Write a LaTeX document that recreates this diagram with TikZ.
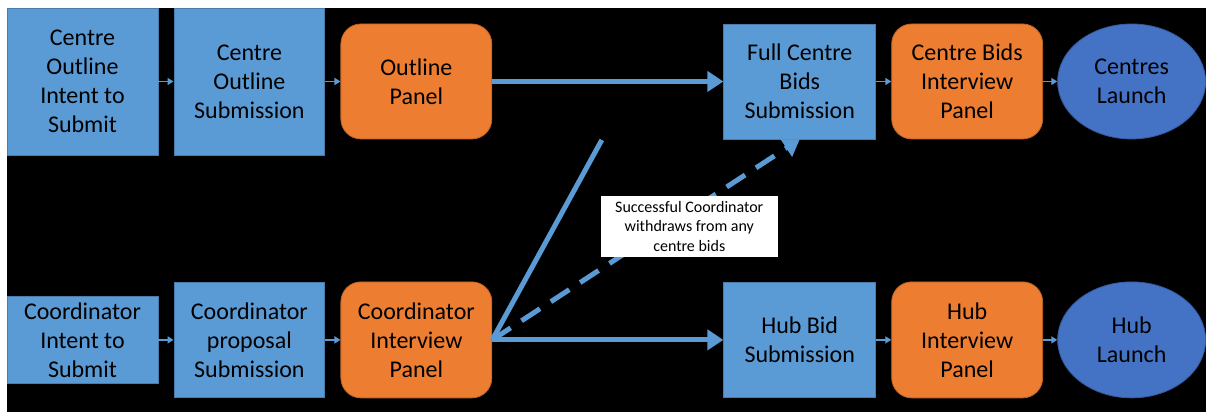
\documentclass[tikz,border=0pt]{standalone}
\usepackage{fontspec}
\setmainfont{Carlito}
\usetikzlibrary{shapes.geometric,arrows.meta}
\definecolor{stepblue}{HTML}{5B9BD5}
\definecolor{panelorange}{HTML}{ED7D31}
\definecolor{launchblue}{HTML}{4472C4}
\tikzset{every node/.style={text=black, align=center, font=\fontsize{24}{29}\selectfont, inner sep=0pt},
  stepbox/.style={rectangle, fill=stepblue, draw=stepblue!80!black, line width=0.8pt, minimum width=151pt},
  panelbox/.style={rectangle, rounded corners=20pt, fill=panelorange, draw=panelorange!80!black, line width=0.8pt, minimum width=151pt, minimum height=116pt},
  launchbox/.style={ellipse, fill=launchblue, draw=launchblue!80!black, line width=0.8pt, minimum width=148pt, minimum height=116pt},
  thinarrow/.style={stepblue, line width=1.5pt, -{Triangle[length=6pt,width=7pt]}},
  bigarrow/.style={stepblue, line width=5pt, -{Triangle[length=16pt,width=20pt]}},
  noteline/.style={stepblue, line width=5pt}}

\begin{document}
\begin{tikzpicture}[x=1pt,y=-1pt]
   \fill[white] (0,0) rectangle (1206,412);
   \fill[black] (7,8) rectangle (1206,412);

   \node[stepbox, minimum height=147pt] (cintent) at ( 82.5, 81.5) {Centre\\Outline\\Intent to\\Submit};
   \node[stepbox, minimum height=147pt] (csub)    at (249.5, 81.5) {Centre\\Outline\\Submission};
   \node[panelbox, minimum height=115pt] (opanel) at (416.5, 81.5) {Outline\\Panel};
   \node[stepbox, minimum height=115pt, minimum width=152pt] (fullbids) at (800, 81.5) {Full Centre\\Bids\\Submission};
   \node[panelbox, minimum height=115pt] (cbpanel) at (967.5, 81.5) {Centre Bids\\Interview\\Panel};
   \node[launchbox, minimum height=115pt] (claunch) at (1132, 81.5) {Centres\\Launch};

   \node[stepbox, minimum height=88pt]  (kintent) at ( 82.5,340) {Coordinator\\Intent to\\Submit};
   \node[stepbox, minimum height=116pt] (ksub)    at (249.5,340) {Coordinator\\proposal\\Submission};
   \node[panelbox] (kpanel) at (416.5,340) {Coordinator\\Interview\\Panel};
   \node[stepbox, minimum height=116pt, minimum width=152pt] (hubbid) at (800,340) {Hub Bid\\Submission};
   \node[panelbox] (hpanel) at (967.5,340) {Hub\\Interview\\Panel};
   \node[launchbox] (hlaunch) at (1132,340) {Hub\\Launch};

   \draw[thinarrow] (cintent) -- (csub);
   \draw[thinarrow] (csub) -- (opanel);
   \draw[thinarrow] (fullbids) -- (cbpanel);
   \draw[thinarrow] (cbpanel) -- (claunch);
   \draw[thinarrow] (kintent) -- (ksub);
   \draw[thinarrow] (ksub) -- (kpanel);
   \draw[thinarrow] (hubbid) -- (hpanel);
   \draw[thinarrow] (hpanel) -- (hlaunch);

   \draw[bigarrow] (opanel) -- (fullbids);
   \draw[bigarrow] (kpanel) -- (hubbid);
   \coordinate (loose) at (602,140);
   \draw[noteline] (kpanel.east) -- (loose);
   \draw[bigarrow, dash pattern=on 22pt off 13pt] (kpanel.east) -- (fullbids.south);

   \node[fill=white, minimum width=177pt, minimum height=61pt, font=\fontsize{16}{19.5}\selectfont] (note) at (689.5,226.5)
     {Successful Coordinator\\withdraws from any\\centre bids};
\end{tikzpicture}
\end{document}
